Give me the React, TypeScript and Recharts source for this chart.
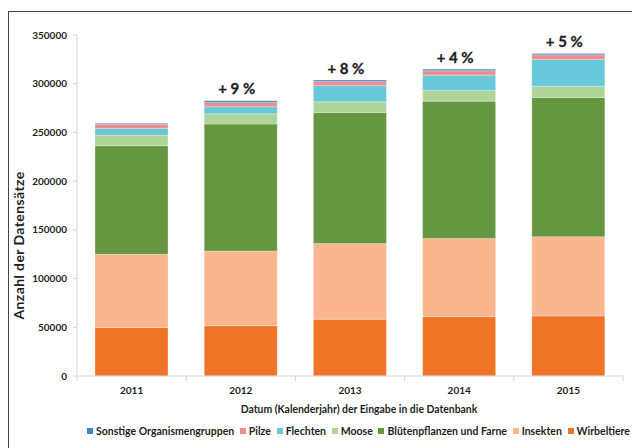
import { BarChart, Bar, XAxis, YAxis, Legend, LabelList } from 'recharts'

const years = ['2011', '2012', '2013', '2014', '2015']
const wirbeltiere = [49900, 51600, 58200, 60900, 61600]
const insekten = [75000, 76700, 77900, 80300, 81400]
const bluetenpflanzen = [111400, 130300, 134400, 140900, 142900]
const moose = [11000, 10500, 11000, 11300, 11600]
const flechten = [6800, 7200, 16400, 15400, 27400]
const pilze = [4400, 4500, 4400, 4400, 4800]
const sonstige = [800, 1600, 1400, 1700, 1300]
const growth = ['', '+ 9 %', '+ 8 %', '+ 4 %', '+ 5 %']
const yTicks = [0, 50000, 100000, 150000, 200000, 250000, 300000, 350000]

// stack order, bottom to top
const SERIES = [
  { key: 'wirbeltiere', name: 'Wirbeltiere', color: '#F07427', values: wirbeltiere },
  { key: 'insekten', name: 'Insekten', color: '#F9B68F', values: insekten },
  { key: 'bluetenpflanzen', name: 'Blütenpflanzen und Farne', color: '#679640', values: bluetenpflanzen },
  { key: 'moose', name: 'Moose', color: '#AFD49A', values: moose },
  { key: 'flechten', name: 'Flechten', color: '#66C8D8', values: flechten },
  { key: 'pilze', name: 'Pilze', color: '#EE8E8C', values: pilze },
  { key: 'sonstige', name: 'Sonstige Organismengruppen', color: '#3B87C8', values: sonstige },
]

const data = years.map((year, i) => {
  const row: Record<string, string | number> = { year, growth: growth[i] }
  SERIES.forEach((s) => {
    row[s.key] = s.values[i]
  })
  return row
})

const FONT = 'Lato, "Open Sans", sans-serif'
const TEXT = '#1e1e1e'
const AXIS = '#d6d6d6'

function XTick(props: any) {
  const { x, y, payload, index, visibleTicksCount } = props
  const half = payload?.offset || 54.6
  const axisY = y - 11
  return (
    <g>
      <line x1={x - half} x2={x - half} y1={axisY} y2={axisY + 5} stroke={AXIS} />
      {index === visibleTicksCount - 1 && (
        <line x1={x + half} x2={x + half} y1={axisY} y2={axisY + 5} stroke={AXIS} />
      )}
      <text x={x} y={y} dy="0.71em" textAnchor="middle" fontSize={10} fontWeight={700} fill={TEXT} fontFamily={FONT}>
        {payload.value}
      </text>
    </g>
  )
}

function GrowthLabel(props: any) {
  const { x, y, width, value } = props
  if (!value) return null
  return (
    <text
      x={x + width / 2 - 4}
      y={y - 12.5}
      textAnchor="middle"
      dominantBaseline="central"
      fontSize={15}
      fontWeight={700}
      fill={TEXT}
      fontFamily={FONT}
      stroke={TEXT}
      strokeWidth={0.3}
    >
      {value}
    </text>
  )
}

function LegendContent() {
  const items = [...SERIES].reverse()
  return (
    <div
      style={{
        display: 'flex',
        alignItems: 'center',
        justifyContent: 'space-between',
        height: 16,
        marginLeft: 87,
        width: 543,
        fontFamily: FONT,
      }}
    >
      {items.map((s) => (
        <div key={s.key} style={{ display: 'flex', alignItems: 'center' }}>
          <div style={{ width: 6, height: 6, background: s.color, marginRight: 3 }} />
          <span style={{ fontSize: 10.5, fontWeight: 700, color: TEXT, whiteSpace: 'nowrap' }}>{s.name}</span>
        </div>
      ))}
    </div>
  )
}

function YTitle(props: any) {
  const { viewBox } = props
  const cx = viewBox.x + 1
  const cy = viewBox.y + viewBox.height / 2 + 40
  return (
    <text
      x={cx}
      y={cy}
      transform={`rotate(-90, ${cx}, ${cy})`}
      textAnchor="middle"
      dominantBaseline="central"
      fontSize={14}
      letterSpacing={0.4}
      fontWeight={700}
      fill={TEXT}
      fontFamily={FONT}
    >
      Anzahl der Datensätze
    </text>
  )
}

export default function App() {
  return (
    <div style={{ position: 'absolute', left: 0, top: 0, width: 632, height: 448, overflow: 'hidden', background: '#fff' }}>
      <div
        style={{
          position: 'absolute',
          left: 8,
          top: 11,
          width: 700,
          height: 500,
          border: '1.5px solid #444',
        }}
      />
      <div style={{ position: 'absolute', left: 0, top: 0 }}>
        <BarChart
          width={632}
          height={448}
          data={data}
          margin={{ top: 35, right: 9, bottom: 9, left: 17 }}
          barCategoryGap="16.5%"
        >
          <XAxis
            dataKey="year"
            height={47}
            stroke={AXIS}
            tickLine={false}
            tickSize={4}
            tickMargin={7}
            tick={<XTick />}
            label={{
              value: 'Datum (Kalenderjahr) der Eingabe in die Datenbank',
              position: 'insideBottom',
              offset: 10,
              dx: 9,
              fontSize: 10.4,
              fontWeight: 700,
              fill: TEXT,
              fontFamily: FONT,
            }}
          />
          <YAxis
            width={60}
            domain={[0, 350000]}
            ticks={yTicks}
            interval={0}
            stroke={AXIS}
            tickSize={4}
            tickMargin={6}
            tick={{ fontSize: 10, fontWeight: 700, fill: TEXT, fontFamily: FONT }}
            label={{ content: <YTitle /> }}
          />
          <Legend verticalAlign="bottom" content={<LegendContent />} wrapperStyle={{ left: 0, width: 632 }} />
          {SERIES.map((s, i) => (
            <Bar
              key={s.key}
              dataKey={s.key}
              name={s.name}
              stackId="a"
              fill={s.color}
              stroke="rgba(255,255,255,0.5)"
              strokeWidth={0.5}
              isAnimationActive={false}
            >
              {i === SERIES.length - 1 && <LabelList dataKey="growth" content={<GrowthLabel />} />}
            </Bar>
          ))}
        </BarChart>
      </div>
    </div>
  )
}
